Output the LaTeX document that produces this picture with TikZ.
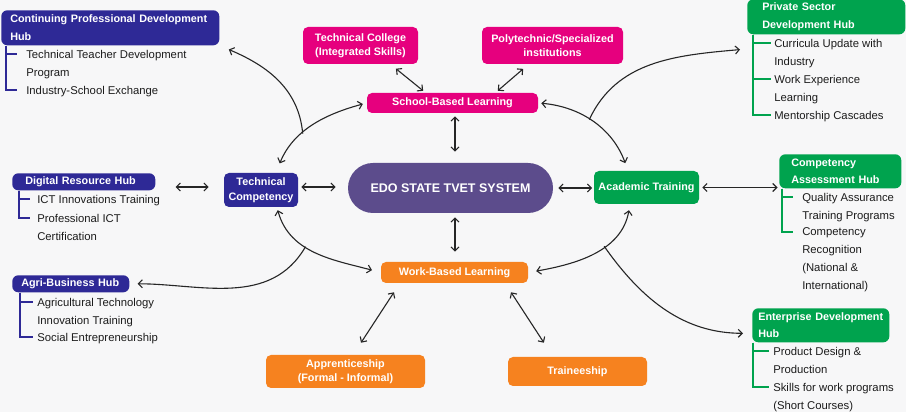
\documentclass[tikz,border=0pt]{standalone}
\usepackage{fontspec}
\setmainfont{Liberation Sans}
\usepackage{xcolor}
\usepackage{tikz}
\usetikzlibrary{arrows.meta}
\usetikzlibrary{calc}
\usetikzlibrary{positioning}

\definecolor{hubblue}{RGB}{46,41,150}
\definecolor{hubgreen}{RGB}{0,163,78}
\definecolor{hubpink}{RGB}{230,0,126}
\definecolor{wblorange}{RGB}{246,130,31}
\definecolor{edopurple}{RGB}{92,76,140}
\definecolor{bgray}{RGB}{247,247,248}
\definecolor{arrowgray}{RGB}{38,38,38}
\definecolor{textgray}{RGB}{28,28,28}

\newcommand{\boxfont}{\fontsize{10.8}{14.5}\selectfont\bfseries}
\newcommand{\hubfont}{\fontsize{10.8}{17.5}\selectfont\bfseries}
\newcommand{\itemfont}{\fontsize{11.3}{17.8}\selectfont}
\newcommand{\edofont}{\fontsize{12.5}{15}\selectfont\bfseries}

\begin{document}
\begin{tikzpicture}[x=1pt,y=1pt,>={Straight Barb[length=4pt,width=8pt]},semithick]
	\tikzstyle{box}=[rounded corners=5pt, text=white, font=\boxfont, align=center, inner sep=2pt]
	\tikzstyle{hub}=[rounded corners=6pt, text=white, font=\hubfont, align=left, anchor=north west, inner ysep=2pt]
	\tikzstyle{item}=[anchor=north west, align=left, inner sep=0pt, font=\itemfont, text=textgray]
	\tikzstyle{link}=[draw=arrowgray, line width=1.1pt]
	\tikzstyle{bblue}=[draw=hubblue, line width=1.2pt]
	\tikzstyle{bgreen}=[draw=hubgreen, line width=1.2pt]

	\fill[bgray] (0,0) rectangle (906,412);
	\useasboundingbox (0,0) rectangle (906,412);

	% hubs on the left
	\node[hub, fill=hubblue, inner xsep=9pt, text width=200pt, minimum height=35pt] (cpd) at (1,402) {Continuing Professional Development\\Hub};
	\node[item] (cpdA) at (26,362.2) {Technical Teacher Development\\Program};
	\node[item] (cpdB) at (26,326.2) {Industry-School Exchange};
	\node[hub, fill=hubblue, inner xsep=13pt, text width=117pt, minimum height=17pt] (drh) at (12,239) {Digital Resource Hub};
	\node[item] (drhA) at (37,217.2) {ICT Innovations Training};
	\node[item] (drhB) at (37,198.2) {Professional ICT\\Certification};
	\node[hub, fill=hubblue, inner xsep=9pt, text width=99pt, minimum height=17pt] (abh) at (12,137) {Agri-Business Hub};
	\node[item] (abhA) at (37,114.2) {Agricultural Technology\\Innovation Training};
	\node[item] (abhB) at (37,79.2) {Social Entrepreneurship};

	% hubs on the right
	\node[hub, fill=hubgreen, inner xsep=15pt, text width=128pt, minimum height=35pt] (psd) at (747,413) {Private Sector\\Development Hub};
	\node[item] (psdA) at (774,373.2) {Curricula Update with\\Industry};
	\node[item] (psdB) at (774,337.2) {Work Experience\\Learning};
	\node[item] (psdC) at (774,301.2) {Mentorship Cascades};
	\node[hub, fill=hubgreen, inner xsep=12pt, text width=98pt, minimum height=34pt] (cah) at (779,258) {Competency\\Assessment Hub};
	\node[item] (cahA) at (802,219.2) {Quality Assurance\\Training Programs};
	\node[item] (cahB) at (802,184.2) {Competency\\Recognition\\(National \&\\International)};
	\node[hub, fill=hubgreen, inner xsep=6pt, text width=125pt, minimum height=34pt] (edh) at (752,104) {Enterprise Development\\Hub};
	\node[item] (edhA) at (773,65.2) {Product Design \&\\Production};
	\node[item] (edhB) at (773,29.2) {Skills for work programs\\(Short Courses)};

	% centre
	\node[box, fill=hubpink, minimum width=115pt, minimum height=37pt] (tcol) at (360.5,366.5) {Technical College\\(Integrated Skills)};
	\node[box, fill=hubpink, minimum width=141pt, minimum height=37pt] (poly) at (552.5,366.5) {Polytechnic/Specialized\\institutions};
	\node[box, fill=hubpink, minimum width=171pt, minimum height=20pt] (sbl) at (452.5,309) {School-Based Learning};
	\node[box, fill=hubblue, minimum width=74pt, minimum height=34pt] (tcomp) at (261,222) {Technical\\Competency};
	\node[box, fill=edopurple, rounded corners=25pt, minimum width=205pt, minimum height=50pt, font=\edofont] (edo) at (450.5,224) {EDO STATE TVET SYSTEM};
	\node[box, fill=hubgreen, minimum width=105pt, minimum height=33pt] (acad) at (646.5,224.5) {Academic Training};
	\node[box, fill=wblorange, minimum width=147pt, minimum height=21pt] (wbl) at (454.5,139.5) {Work-Based Learning};
	\node[box, fill=wblorange, minimum width=159pt, minimum height=33pt] (appr) at (345.5,40.5) {Apprenticeship\\(Formal - Informal)};
	\node[box, fill=wblorange, minimum width=139pt, minimum height=29pt] (train) at (577.5,40.5) {Traineeship};

	% brackets
	\draw[bblue] ([xshift=5pt]cpd.south west) |- ([shift={(-9pt,-4.2pt)}]cpdA.north west);
	\draw[bblue] ([xshift=5pt]cpd.south west) |- ([shift={(-9pt,-4.2pt)}]cpdB.north west);
	\draw[bblue] ([xshift=7pt]drh.south west) |- ([shift={(-7pt,-4.2pt)}]drhA.north west);
	\draw[bblue] ([xshift=7pt]drh.south west) |- ([shift={(-7pt,-4.2pt)}]drhB.north west);
	\draw[bblue] ([xshift=8pt]abh.south west) |- ([shift={(-4pt,-4.2pt)}]abhA.north west);
	\draw[bblue] ([xshift=8pt]abh.south west) |- ([shift={(-4pt,-4.2pt)}]abhB.north west);
	\draw[bgreen] ([xshift=6pt]psd.south west) |- ([shift={(-3pt,-4.2pt)}]psdA.north west);
	\draw[bgreen] ([xshift=6pt]psd.south west) |- ([shift={(-3pt,-4.2pt)}]psdB.north west);
	\draw[bgreen] ([xshift=6pt]psd.south west) |- ([shift={(-3pt,-4.2pt)}]psdC.north west);
	\draw[bgreen] ([xshift=3pt]cah.south west) |- ([shift={(-9pt,-4.2pt)}]cahA.north west);
	\draw[bgreen] ([xshift=3pt]cah.south west) |- ([shift={(-9pt,-4.2pt)}]cahB.north west);
	\draw[bgreen] ([xshift=1pt]edh.south west) |- ([shift={(-4pt,-4.2pt)}]edhA.north west);
	\draw[bgreen] ([xshift=1pt]edh.south west) |- ([shift={(-4pt,-4.2pt)}]edhB.north west);

	% straight links
	\draw[link, <->, shorten <=7pt, shorten >=3pt] ([xshift=30pt]tcol.south) -- ([xshift=-27pt]sbl.north);
	\draw[link, <->, shorten <=7pt, shorten >=3pt] ([xshift=-24pt]poly.south) -- ([xshift=43pt]sbl.north);
	\draw[link, <->, shorten <=3pt, shorten >=11pt] ([xshift=2.5pt]sbl.south) -- ([xshift=4.5pt]edo.north);
	\draw[link, <->, shorten <=4pt, shorten >=10pt] ([xshift=4.5pt]edo.south) -- ([xshift=0.5pt]wbl.north);
	\draw[link, <->, shorten <=20pt, shorten >=15pt] ($(drh.east |- tcomp.west)+(0,3)$) -- ($(tcomp.west)+(0,3)$);
	\draw[link, <->, shorten <=3pt, shorten >=12pt] ($(tcomp.east)+(0,3)$) -- ($(tcomp.east -| edo.west)+(0,3)$);
	\draw[link, <->, shorten <=5pt, shorten >=1.5pt] (edo.east) -- (edo.east -| acad.west);
	\draw[link, <->, shorten <=3pt, shorten >=1.5pt] (acad.east) -- (acad.east -| cah.west);
	\draw[link, <->, shorten <=10.7pt, shorten >=14.3pt] ([xshift=-54.7pt]wbl.south) -- ([xshift=7.7pt]appr.north);
	\draw[link, <->, shorten <=10.7pt, shorten >=16.7pt] ([xshift=50.7pt]wbl.south) -- ([xshift=-24.5pt]train.north);

	% curved links with branches
	\draw[link, <->, shorten <=10pt, shorten >=4pt] ([xshift=15pt]tcomp.north) to[out=68,in=195] coordinate[pos=0.4] (jnw) (sbl.west);
	\draw[link, ->, shorten >=10pt] (jnw) to[out=95,in=-23] (cpd.south east);
	\draw[link, <->, shorten <=3pt, shorten >=8pt] (sbl.east) to[out=-5,in=110] coordinate[pos=0.45] (jne) ([xshift=-18.5pt]acad.north);
	\draw[link, ->] (jne) to[out=65,in=185] ([shift={(-7pt,-15pt)}]psd.south west);
	\draw[link, <->, shorten <=3pt, shorten >=9pt] ([xshift=16pt]tcomp.south) to[out=-75,in=165] coordinate[pos=0.4] (jsw) (wbl.west);
	\draw[link, ->, shorten >=8pt] (jsw) to[out=-120,in=0] (abh.east);
	\draw[link, <->, shorten <=6pt, shorten >=8pt] ([xshift=-16.5pt]acad.south) to[out=-100,in=10] coordinate[pos=0.4] (jse) (wbl.east);
	\draw[link, ->, shorten >=9pt] (jse) to[out=-55,in=180] ([yshift=-8pt]edh.west);
\end{tikzpicture}
\end{document}
